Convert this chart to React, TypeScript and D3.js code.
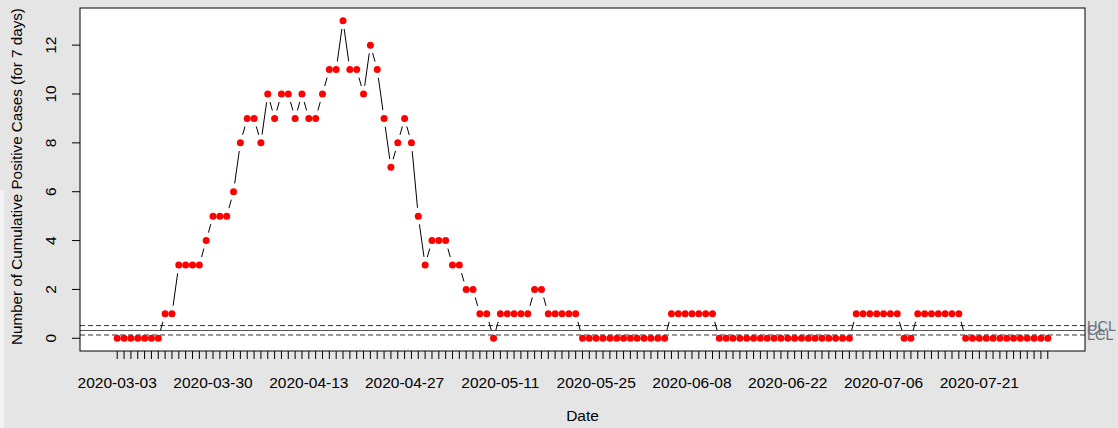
import React from "react";
import * as d3 from "d3";

// Values, one per observation (137 points)
const values: number[] = [
  0, 0, 0, 0, 0, 0, 0,
  1, 1,
  3, 3, 3, 3,
  4,
  5, 5, 5,
  6,
  8,
  9, 9,
  8,
  10,
  9,
  10, 10,
  9,
  10,
  9, 9,
  10,
  11, 11,
  13,
  11, 11,
  10,
  12,
  11,
  9,
  7,
  8,
  9,
  8,
  5,
  3,
  4, 4, 4,
  3, 3,
  2, 2,
  1, 1,
  0,
  1, 1, 1, 1, 1,
  2, 2,
  1, 1, 1, 1, 1,
  0, 0, 0, 0, 0, 0, 0, 0, 0, 0, 0, 0, 0,
  1, 1, 1, 1, 1, 1, 1,
  0, 0, 0, 0, 0, 0, 0, 0, 0, 0, 0, 0, 0, 0, 0, 0, 0, 0, 0, 0,
  1, 1, 1, 1, 1, 1, 1,
  0, 0,
  1, 1, 1, 1, 1, 1, 1,
  0, 0, 0, 0, 0, 0, 0, 0, 0, 0, 0, 0, 0,
];

// Visible x tick labels (every 14th observation)
const tickLabels: string[] = [
  "2020-03-03", "2020-03-30", "2020-04-13", "2020-04-27", "2020-05-11",
  "2020-05-25", "2020-06-08", "2020-06-22", "2020-07-06", "2020-07-21",
];
const labelStep = 14;

const yTicks: number[] = [0, 2, 4, 6, 8, 10, 12];

const limitNames: string[] = ["UCL", "CL", "LCL"];
const limitValues: number[] = [0.52, 0.32, 0.135];

const W = 1118;
const H = 428;
const left = 80, right = 1085, top = 8, bottom = 351;
const FONT = "'Liberation Sans', Arial, Helvetica, sans-serif";

export default function App() {
  const n = values.length;
  const pad = (n - 1) * 0.04;
  const x = d3.scaleLinear().domain([-pad, n - 1 + pad]).range([left, right]);
  const y = d3.scaleLinear().domain([-0.52, 13.52]).range([bottom, top]);

  const gap = 8.3;
  const segs: { x1: number; y1: number; x2: number; y2: number }[] = [];
  for (let i = 0; i < n - 1; i++) {
    const ax = x(i), ay = y(values[i]);
    const bx = x(i + 1), by = y(values[i + 1]);
    const dx = bx - ax, dy = by - ay;
    const len = Math.sqrt(dx * dx + dy * dy);
    if (len <= 2 * gap) continue;
    const ux = dx / len, uy = dy / len;
    segs.push({ x1: ax + ux * gap, y1: ay + uy * gap, x2: bx - ux * gap, y2: by - uy * gap });
  }

  return (
    <svg
      width={W}
      height={H}
      style={{ position: "absolute", left: 0, top: 0, display: "block" }}
      fontFamily={FONT}
    >
      <rect x={0} y={0} width={W} height={H} fill="#e5e5e5" />
      <rect x={0} y={190} width={4} height={H - 190} fill="#f2f2f2" />
      <rect x={left} y={top} width={right - left} height={bottom - top} fill="#ffffff" />

      {/* control limits */}
      {limitNames.map((name, k) => (
        <line
          key={name}
          x1={left}
          x2={right}
          y1={y(limitValues[k])}
          y2={y(limitValues[k])}
          stroke={name === "CL" ? "#555" : "#333"}
          strokeWidth={1}
          strokeDasharray={name === "CL" ? undefined : "5,3"}
        />
      ))}
      {limitNames.map((name, k) => (
        <text
          key={"t" + name}
          x={right + 2}
          y={y(limitValues[k]) + 5}
          fontSize={14.5}
          fill="#6a7280"
        >
          {name}
        </text>
      ))}

      {/* connecting line (type b) */}
      {segs.map((s, i) => (
        <line key={"s" + i} x1={s.x1} y1={s.y1} x2={s.x2} y2={s.y2} stroke="#000" strokeWidth={1} />
      ))}

      {/* points */}
      {values.map((v, i) => (
        <circle key={"p" + i} cx={x(i)} cy={y(v)} r={3.5} fill="#ff0000" />
      ))}

      {/* box */}
      <rect x={left} y={top} width={right - left} height={bottom - top} fill="none" stroke="#000" strokeWidth={1} />

      {/* x ticks */}
      {values.map((_, i) => (
        <line key={"xt" + i} x1={x(i)} x2={x(i)} y1={bottom} y2={bottom + 8} stroke="#000" strokeWidth={1} />
      ))}
      {tickLabels.map((t, k) => (
        <text key={"xl" + k} x={x(k * labelStep)} y={388} fontSize={15.5} textAnchor="middle" fill="#000">
          {t}
        </text>
      ))}

      {/* y ticks */}
      {yTicks.map((t) => (
        <line key={"yt" + t} x1={left - 8} x2={left} y1={y(t)} y2={y(t)} stroke="#000" strokeWidth={1} />
      ))}
      {yTicks.map((t) => (
        <text
          key={"yl" + t}
          transform={`translate(56,${y(t)}) rotate(-90)`}
          fontSize={15.5}
          textAnchor="middle"
          fill="#000"
        >
          {t}
        </text>
      ))}

      {/* axis titles */}
      <text x={(left + right) / 2} y={421} fontSize={15.5} textAnchor="middle" fill="#000">
        Date
      </text>
      <text
        transform={`translate(22,${(top + bottom) / 2 - 3}) rotate(-90)`}
        fontSize={15.2}
        textAnchor="middle"
        fill="#000"
      >
        Number of Cumulative Positive Cases (for 7 days)
      </text>
    </svg>
  );
}
